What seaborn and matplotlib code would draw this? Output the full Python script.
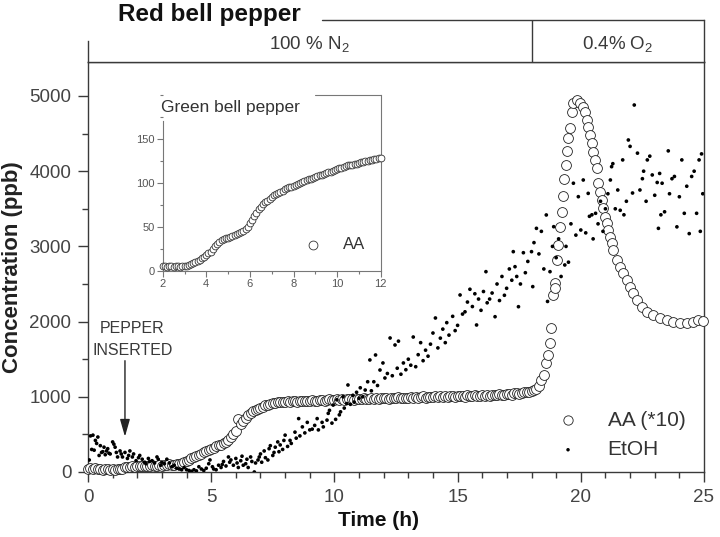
import numpy as np
import pandas as pd
import seaborn as sns
import matplotlib.pyplot as plt
from matplotlib.ticker import MultipleLocator

# Red bell pepper, AA (*10), regular part sampled every 0.1 h from 0 to 18.4 h
aa_step_time = 0.1
aa_regular = [
    45, 55, 40, 50, 35, 45, 30, 40, 35, 30,
    40, 30, 35, 45, 40, 60, 70, 65, 75, 70,
    80, 75, 85, 80, 75, 85, 90, 80, 85, 90,
    85, 95, 90, 100, 95, 90, 105, 100, 115, 130,
    150, 165, 180, 200, 210, 225, 245, 260, 280, 295,
    310, 325, 340, 355, 365, 380, 400, 430, 460, 500,
    550, 700, 640, 680, 720, 755, 780, 805, 825, 840,
    855, 870, 885, 895, 905, 915, 920, 925, 930, 935,
    935, 940, 930, 945, 940, 935, 950, 945, 940, 950,
    945, 955, 950, 940, 955, 960, 950, 955, 965, 960,
    955, 965, 960, 970, 960, 965, 975, 970, 960, 975,
    970, 965, 980, 975, 970, 985, 975, 980, 970, 985,
    980, 990, 975, 985, 990, 980, 995, 985, 990, 980,
    990, 995, 985, 1000, 990, 995, 1005, 990, 1000, 995,
    1000, 1005, 995, 1010, 1000, 1005, 995, 1010, 1005, 1000,
    1010, 1005, 1015, 1000, 1020, 1010, 1005, 1020, 1015, 1010,
    1020, 1015, 1025, 1010, 1030, 1020, 1025, 1035, 1020, 1030,
    1035, 1040, 1030, 1045, 1050, 1040, 1055, 1060, 1065, 1070,
    1080, 1090, 1110, 1150, 1220,
]
# peak under 0.4% O2 (read point by point)
aa_peak_time = [18.52, 18.6, 18.68, 18.75, 18.79, 18.88, 18.94, 18.95, 19.02, 19.09,
                19.16, 19.22, 19.26, 19.32, 19.4, 19.45, 19.5, 19.56, 19.63, 19.7,
                19.83, 19.97, 20.1, 20.17, 20.24, 20.3, 20.37, 20.44, 20.5, 20.57,
                20.64, 20.7, 20.78, 20.85, 20.91, 20.98, 21.05, 21.12, 21.18, 21.25,
                21.32, 21.46, 21.59, 21.73, 21.86, 22.0, 22.13, 22.27, 22.47, 22.67,
                22.94, 23.21, 23.49, 23.75, 24.02, 24.3, 24.57, 24.77, 24.95]
aa_peak_conc = [1290, 1445, 1556, 1715, 1915, 2354, 2513, 2447, 2820, 3019,
                3262, 3461, 3674, 3896, 4082, 4268, 4437, 4570, 4791, 4902,
                4947, 4911, 4858, 4791, 4681, 4592, 4481, 4375, 4259, 4149,
                4038, 3839, 3727, 3617, 3507, 3395, 3307, 3218, 3129, 3041,
                2952, 2819, 2730, 2642, 2553, 2464, 2376, 2287, 2198, 2132,
                2088, 2044, 2021, 1999, 1977, 1985, 1999, 2021, 2010]

etoh_time = [0.05, 0.1, 0.15, 0.2, 0.25, 0.3, 0.35, 0.4, 0.45, 0.5, 0.55, 0.6, 0.65, 0.7, 0.75,
             0.8, 0.85, 0.9, 1.0, 1.05, 1.1, 1.15, 1.2, 1.3, 1.35, 1.4, 1.5, 1.6, 1.65, 1.7,
             1.8, 1.85, 1.95, 2.05, 2.1, 2.2, 2.3, 2.35, 2.45, 2.5, 2.6, 2.7, 2.8, 2.85, 2.95,
             3.0, 3.1, 3.2, 3.3, 3.4, 3.5, 3.6, 3.7, 3.8, 3.9, 4.0, 4.1, 4.2, 4.3, 4.4,
             4.5, 4.6, 4.7, 4.8, 4.9, 4.95, 5.05, 5.1, 5.2, 5.3, 5.4, 5.45, 5.5, 5.6, 5.7,
             5.75, 5.8, 5.9, 6.0, 6.05, 6.1, 6.2, 6.25, 6.3, 6.4, 6.45, 6.5, 6.6, 6.65, 6.75,
             6.8, 6.9, 6.95, 7.0, 7.05, 7.15, 7.2, 7.3, 7.35, 7.4, 7.5, 7.55, 7.6, 7.7, 7.75,
             7.8, 7.9, 7.95, 8.0, 8.1, 8.2, 8.25, 8.4, 8.45, 8.55, 8.6, 8.7, 8.8, 8.9, 9.0,
             9.1, 9.2, 9.3, 9.35, 9.5, 9.55, 9.7, 9.75, 9.8, 9.9, 9.95, 10.05, 10.1, 10.2, 10.25,
             10.35, 10.4, 10.5, 10.55, 10.65, 10.75, 10.8, 10.9, 11.0, 11.05, 11.15, 11.25, 11.35, 11.44, 11.5,
             11.6, 11.67, 11.75, 11.85, 11.97, 12.05, 12.15, 12.26, 12.35, 12.46, 12.55, 12.6, 12.7, 12.8, 12.9,
             13.0, 13.1, 13.2, 13.3, 13.4, 13.5, 13.6, 13.7, 13.8, 13.9, 14.0, 14.1, 14.2, 14.3, 14.4,
             14.5, 14.56, 14.65, 14.8, 14.9, 15.0, 15.1, 15.2, 15.3, 15.4, 15.5, 15.6, 15.7, 15.77, 15.85,
             15.95, 16.05, 16.15, 16.2, 16.3, 16.4, 16.52, 16.6, 16.7, 16.8, 16.9, 16.99, 17.1, 17.2, 17.26,
             17.33, 17.4, 17.47, 17.55, 17.67, 17.75, 17.85, 18.0, 18.05, 18.1, 18.2, 18.3, 18.4, 18.5, 18.6,
             18.65, 18.75, 18.85, 18.9, 19.0, 19.1, 19.2, 19.35, 19.4, 19.5, 19.6, 19.7, 19.8, 19.9, 20.0,
             20.1, 20.2, 20.3, 20.35, 20.45, 20.5, 20.6, 20.7, 20.8, 20.9, 21.0, 21.1, 21.2, 21.25, 21.3,
             21.4, 21.5, 21.6, 21.7, 21.75, 21.85, 21.93, 22.0, 22.1, 22.17, 22.3, 22.4, 22.5, 22.55, 22.65,
             22.7, 22.8, 22.9, 23.0, 23.1, 23.15, 23.2, 23.25, 23.3, 23.4, 23.55, 23.6, 23.7, 23.8, 23.9,
             24.0, 24.1, 24.2, 24.3, 24.4, 24.5, 24.6, 24.7, 24.8, 24.85, 24.9, 24.95]
etoh_conc = [160, 480, 300, 490, 290, 420, 380, 465, 220, 350, 260, 270, 330, 230, 280,
             310, 250, 240, 400, 370, 330, 260, 200, 280, 240, 200, 260, 180, 220, 280,
             200, 240, 150, 190, 220, 170, 130, 110, 180, 140, 150, 120, 200, 170, 90,
             130, 110, 170, 120, 70, 90, 50, 40, 30, 60, 30, 20, 10, 30, 15,
             70, 40, 20, 50, 110, 160, 70, 40, 30, 90, 60, 100, 140, 80, 200,
             130, 160, 90, 180, 120, 60, 150, 210, 90, 110, 170, 60, 200, 140, 0,
             120, 160, 200, 240, 130, 280, 190, 160, 310, 350, 220, 260, 330, 400, 270,
             360, 300, 420, 490, 340, 420, 380, 530, 450, 710, 480, 600, 520, 660, 560,
             570, 620, 710, 560, 660, 600, 690, 780, 820, 650, 890, 700, 960, 760, 800,
             1000, 850, 910, 1157, 900, 1020, 930, 1060, 980, 1120, 1000, 1090, 1200, 1490, 1080,
             1200, 1556, 1150, 1356, 1450, 1250, 1310, 1782, 1280, 1689, 1380, 1740, 1300, 1450, 1360,
             1500, 1420, 1795, 1400, 1560, 1720, 1480, 1620, 1540, 1700, 1848, 2048, 1650, 1780, 1900,
             1720, 1986, 1820, 2070, 1880, 1950, 2354, 2100, 2130, 2260, 2430, 2200, 2370, 1955, 2300,
             2150, 2400, 2664, 2250, 2300, 2380, 2065, 2500, 2280, 2600, 2350, 2443, 2700, 2550, 2930,
             2730, 2600, 2198, 2500, 2916, 2650, 2800, 2930, 2465, 3050, 3240, 2900, 3200, 2700, 3418,
             2268, 2664, 3000, 3262, 2850, 3100, 2600, 2753, 3000, 2790, 3300, 3840, 3150, 3661, 3218,
             3883, 3180, 3705, 3400, 3420, 3100, 3440, 3300, 3600, 3200, 3500, 3700, 3883, 4060, 4100,
             3500, 3750, 3480, 4150, 3420, 3600, 4415, 4330, 3710, 4880, 4240, 3750, 3900, 4000, 3600,
             4150, 4200, 3950, 3680, 3850, 3240, 3970, 3420, 3840, 3460, 4270, 3700, 3900, 3930, 3260,
             3660, 4150, 3440, 3800, 3170, 3930, 4000, 3440, 4150, 3200, 4230, 3700]

# Green bell pepper inset, AA sampled every 0.1 h from 2 to 12 h
green_start = 2.0
green_aa = [
    6, 6, 5, 6, 6, 5, 6, 6, 5, 6,
    6, 6, 7, 8, 9, 10, 11, 13, 15, 16,
    18, 20, 22, 25, 28, 31, 33, 35, 36, 37,
    38, 39, 40, 41, 42, 43, 44, 46, 48, 50,
    54, 58, 62, 66, 70, 73, 76, 78, 80, 82,
    84, 86, 87, 89, 90, 91, 93, 94, 95, 96,
    97, 98, 99, 100, 101, 102, 103, 104, 105, 106,
    107, 108, 109, 109, 110, 111, 112, 113, 114, 115,
    116, 117, 117, 118, 119, 120, 120, 121, 122, 122,
    123, 124, 124, 125, 125, 126, 126, 127, 127, 128,
    128,
]

atmospheres = ['100 % N$_2$', '0.4% O$_2$']
switch_time = 18
insert_time = 1.5

sns.set_style('ticks')
plt.rcParams['font.family'] = ['Liberation Sans', 'DejaVu Sans']
plt.rcParams['mathtext.fontset'] = 'custom'
plt.rcParams['mathtext.rm'] = 'Liberation Sans'
plt.rcParams['mathtext.it'] = 'Liberation Sans:italic'
plt.rcParams['mathtext.bf'] = 'Liberation Sans:bold'
grey = '#3a3a3a'

aa_df = pd.DataFrame({
    'time': list(np.arange(len(aa_regular)) * aa_step_time) + aa_peak_time,
    'conc': aa_regular + aa_peak_conc,
})
etoh_df = pd.DataFrame({'time': etoh_time, 'conc': etoh_conc})
green_df = pd.DataFrame({'time': green_start + np.arange(len(green_aa)) * 0.1, 'conc': green_aa})

fig = plt.figure(figsize=(7.2, 5.37), dpi=100)
W, H = 720, 537
ax = fig.add_axes([88 / W, (H - 472) / H, 616 / W, 410 / H])

sns.scatterplot(data=aa_df, x='time', y='conc', ax=ax, marker='o', s=50,
                facecolor='white', edgecolor='#222222', linewidth=0.6,
                label='AA (*10)', clip_on=False, zorder=3)
sns.scatterplot(data=etoh_df, x='time', y='conc', ax=ax, marker='o', s=7,
                color='black', edgecolor='none', label='EtOH', zorder=4)

ax.set_xlim(0, 25)
ax.set_ylim(0, 5452)
ax.xaxis.set_major_locator(MultipleLocator(5))
ax.xaxis.set_minor_locator(MultipleLocator(1))
ax.yaxis.set_major_locator(MultipleLocator(1000))
ax.yaxis.set_minor_locator(MultipleLocator(500))
ax.tick_params(which='major', length=7, width=1, color=grey, labelcolor='#444444', labelsize=13.5, pad=5)
ax.tick_params(which='minor', length=4, width=1, color=grey)
for s in ax.spines.values():
    s.set_color(grey)
    s.set_linewidth(1)
ax.set_xlabel('Time (h)', fontsize=15, fontweight='bold', color='#111111')
ax.set_ylabel('Concentration (ppb)', fontsize=16, fontweight='bold', color='#222222')
ax.xaxis.set_label_coords(0.472, -0.095)
ax.yaxis.set_label_coords(-0.106, 0.5)

leg = ax.legend(loc='upper left', bbox_to_anchor=(0.715, 0.195), frameon=False, fontsize=15,
                handletextpad=0.9, labelspacing=0.5, markerscale=0.95)
for t in leg.get_texts():
    t.set_color('#333333')

ax.annotate('', xy=(insert_time, 470), xytext=(insert_time, 1480),
            arrowprops=dict(arrowstyle='-|>,head_length=0.7,head_width=0.2', color='#222222',
                            lw=1, mutation_scale=15, shrinkA=0, shrinkB=0), zorder=6)
ax.text(1.8, 1510, 'PEPPER\nINSERTED', ha='center', va='bottom', fontsize=11.5,
        color=grey, linespacing=1.6)

# gas band on top
band = fig.add_axes([88 / W, (H - 62) / H, 616 / W, 42 / H])
band.set_xlim(0, 25)
band.set_ylim(0, 1)
band.set_xticks([])
band.set_yticks([])
band.spines['top'].set_visible(False)
band.spines['left'].set_bounds(0, 0.5)
for s in band.spines.values():
    s.set_color(grey)
    s.set_linewidth(1)
band.axvline(switch_time, color=grey, lw=1)
band.plot([9.5, 25], [1, 1], color=grey, lw=1, clip_on=False)
band.text(switch_time / 2, 0.42, atmospheres[0], ha='center', va='center', fontsize=13.5, color=grey)
band.text((switch_time + 25) / 2, 0.42, atmospheres[1], ha='center', va='center', fontsize=13.5, color=grey)
fig.text(118 / W, (H - 15) / H, 'Red bell pepper', fontsize=17.5, fontweight='bold',
         color='#111111', va='center', ha='left')

# inset
ins = fig.add_axes([162.7 / W, (H - 271) / H, 218 / W, 176 / H])
sns.scatterplot(data=green_df, x='time', y='conc', ax=ins, marker='o', s=24,
                facecolor='white', edgecolor='#333333', linewidth=0.6, label='AA',
                clip_on=False, zorder=3)
ins.set_xlim(2, 12)
ins.set_ylim(0, 200)
ins.set_xlabel('')
ins.set_ylabel('')
ins.xaxis.set_major_locator(MultipleLocator(2))
ins.xaxis.set_minor_locator(MultipleLocator(1))
ins.set_yticks([0, 50, 100, 150])
ins.yaxis.set_minor_locator(MultipleLocator(25))
ins.tick_params(which='major', length=4, width=0.8, color='#777777', labelcolor='#555555', labelsize=8, pad=2)
ins.tick_params(which='minor', length=2, width=0.8, color='#777777')
ins.spines['top'].set_visible(False)
ins.spines['left'].set_bounds(0, 170)
for s in ins.spines.values():
    s.set_color('#777777')
    s.set_linewidth(0.8)
ins.plot([9.0, 12], [200, 200], color='#777777', lw=0.8, clip_on=False)
ins.text(1.9, 186, 'Green bell pepper', fontsize=12.5, color='#333333', va='center', ha='left')
ileg = ins.legend(loc='lower right', bbox_to_anchor=(1.0, 0.02), frameon=False, fontsize=12,
                  handletextpad=0.8, markerscale=1.3)
for t in ileg.get_texts():
    t.set_color('#333333')

fig.savefig('out.png', dpi=100)
